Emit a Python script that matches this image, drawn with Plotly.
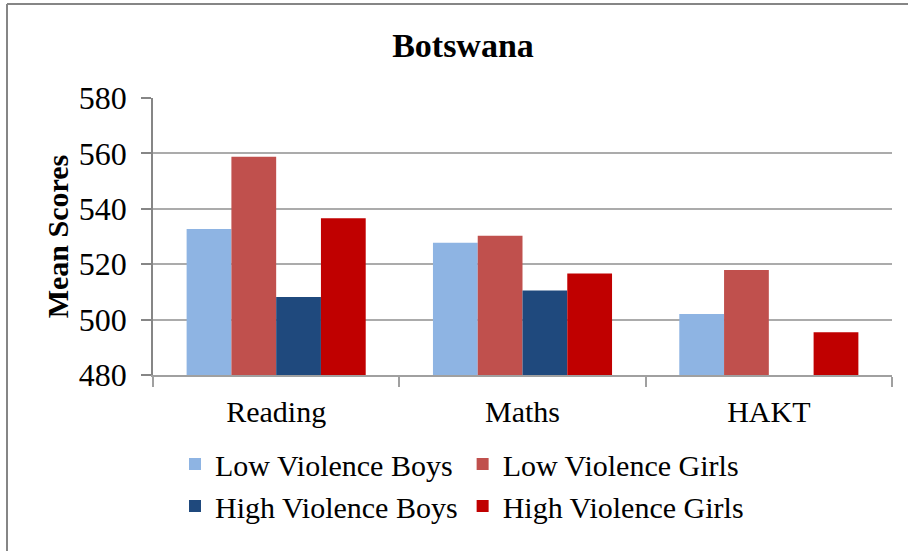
import plotly.graph_objects as go

categories = ["Reading", "Maths", "HAKT"]
series_names = ["Low Violence Boys", "Low Violence Girls", "High Violence Boys", "High Violence Girls"]
low_boys = [532.7, 527.7, 502.0]
low_girls = [558.8, 530.3, 517.9]
high_boys = [508.2, 510.5, 479.6]
high_girls = [536.6, 516.6, 495.4]
colors = ["#8EB4E3", "#C0504D", "#1F497D", "#C00000"]
y_ticks = [480, 500, 520, 540, 560, 580]

W, H = 908, 551
ML, MR, MT, MB = 153, 16, 98, 176
PW, PH = W - ML - MR, H - MT - MB

def px_x(p):
    return (p - ML) / PW

def px_y(p):
    return (H - MB - p) / PH

FONT = "Liberation Serif, Times New Roman, serif"

fig = go.Figure()
for name, vals, col in zip(series_names, [low_boys, low_girls, high_boys, high_girls], colors):
    fig.add_trace(go.Bar(name=name, x=categories, y=vals, marker_color=col,
                         marker_line_width=0))

fig.update_layout(
    width=W, height=H,
    margin=dict(l=ML, r=MR, t=MT, b=MB, autoexpand=False),
    paper_bgcolor="white", plot_bgcolor="white",
    barmode="group", bargap=0.273, bargroupgap=0,
    font=dict(family=FONT, color="black", size=30),
    title=dict(text="<b>Botswana</b>", x=463 / W, xref="container", xanchor="center",
               y=1 - 45 / H, yref="container", yanchor="middle",
               font=dict(family=FONT, size=34, color="black")),
    showlegend=True,
    legend=dict(orientation="h", x=px_x(175), xanchor="left", y=px_y(438), yanchor="top",
                traceorder="normal",
                font=dict(family=FONT, size=30, color="black"),
                itemwidth=30, bgcolor="rgba(0,0,0,0)"),
)

fig.update_yaxes(range=[480, 580], tickvals=y_ticks, ticktext=[str(v) for v in y_ticks],
                 showgrid=True, gridcolor="#ababab", gridwidth=1.5,
                 showline=True, linecolor="#868686", linewidth=1.5,
                 ticks="outside", ticklen=10, tickcolor="#868686", tickwidth=1.5,
                 ticklabelstandoff=8, zeroline=False, automargin=False,
                 tickfont=dict(family=FONT, size=32, color="black"),
                 title=dict(text="<b>Mean Scores</b>", standoff=1,
                            font=dict(family=FONT, size=30, color="black")))
fig.update_xaxes(showgrid=False, showline=True, linecolor="#a0a0a0", linewidth=1.5,
                 ticks="outside", tickson="boundaries", ticklen=10, tickcolor="#a0a0a0",
                 tickwidth=1.5, ticklabelstandoff=9, automargin=False,
                 tickfont=dict(family=FONT, size=30, color="black"))

border = "#868686"
fig.add_shape(type="line", xref="paper", yref="paper", x0=px_x(7), x1=px_x(908),
              y0=px_y(4), y1=px_y(4), line=dict(color=border, width=2))
fig.add_shape(type="line", xref="paper", yref="paper", x0=px_x(7), x1=px_x(7),
              y0=px_y(4), y1=px_y(551), line=dict(color=border, width=2))

fig.write_html("out.html", config={"displayModeBar": False},
               post_script="document.body.style.margin='0px';")
